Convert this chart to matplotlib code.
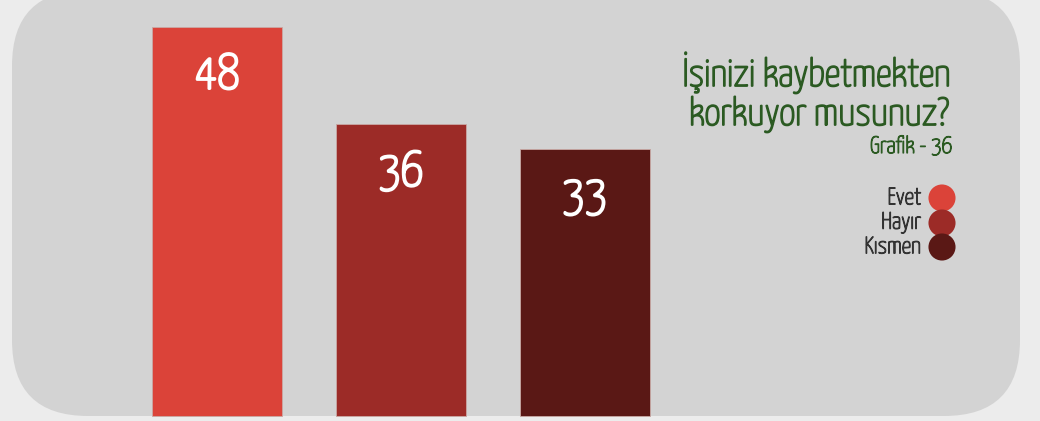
import matplotlib
matplotlib.use("Agg")
import matplotlib.pyplot as plt
from matplotlib.patches import FancyBboxPatch
import matplotlib.patheffects as pe

# Data
categories = ["Evet", "Hayır", "Kısmen"]
values = [48, 36, 33]
colors = ["#db4339", "#9c2b27", "#5a1815"]
title_lines = ["İşinizi kaybetmekten", "korkuyor musunuz?"]
subtitle = "Grafik - 36"

plt.rcParams["font.family"] = ["Yanone Kaffeesatz", "DejaVu Sans"]


def bold(color, lw):
    # thicken the light font strokes
    return [pe.withStroke(linewidth=lw, foreground=color)]


W, H = 1040, 421
fig = plt.figure(figsize=(W / 100, H / 100), dpi=100)
fig.patch.set_facecolor("#ececec")

# Rounded grey panel behind the chart (pixel coordinates)
bg = fig.add_axes([0, 0, 1, 1])
bg.set_xlim(0, W)
bg.set_ylim(H, 0)
bg.axis("off")
panel = FancyBboxPatch((12, -10), 1008, 426,
                       boxstyle="round,pad=0,rounding_size=76",
                       facecolor="#d3d3d3", edgecolor="none")
bg.add_patch(panel)

# Bar chart
ax = fig.add_axes([0, 0, 1, 1], facecolor="none")
px_per_unit_x = 183.75
x0 = 217
ax.set_xlim(-x0 / px_per_unit_x, (W - x0) / px_per_unit_x)
px_per_val = 8.1
base = 416
ax.set_ylim(-(H - base) / px_per_val, base / px_per_val)
ax.axis("off")

xs = list(range(len(values)))
ax.bar(xs, values, width=130 / px_per_unit_x, color=colors,
       edgecolor="#c9a9a5", linewidth=0.6)
for x, v in zip(xs, values):
    ax.text(x, v - 48 / px_per_val, str(v), ha="center", va="center",
            color="white", fontsize=36, path_effects=bold("white", 1.9))

# Title block
green = "#2b5a22"
ax.text(951 / W, 1 - 86 / H, title_lines[0], transform=ax.transAxes,
        ha="right", va="baseline", color=green, fontsize=28,
        path_effects=bold(green, 1.3))
ax.text(949 / W, 1 - 125 / H, title_lines[1], transform=ax.transAxes,
        ha="right", va="baseline", color=green, fontsize=28,
        path_effects=bold(green, 1.3))
ax.text(952 / W, 1 - 153 / H, subtitle, transform=ax.transAxes,
        ha="right", va="baseline", color=green, fontsize=17,
        path_effects=bold(green, 0.9))

# Legend: labels with round markers
leg_y = [198, 223, 247]
for name, c, yy in zip(categories, colors, leg_y):
    ax.text(921 / W, 1 - yy / H, name, transform=ax.transAxes,
            ha="right", va="center", color="#333333", fontsize=17,
            path_effects=bold("#333333", 0.9))
    ax.scatter([942 / W], [1 - yy / H], s=380, color=c,
               transform=ax.transAxes, edgecolors="none", clip_on=False)

fig.savefig("out.png", dpi=100, facecolor=fig.get_facecolor())
